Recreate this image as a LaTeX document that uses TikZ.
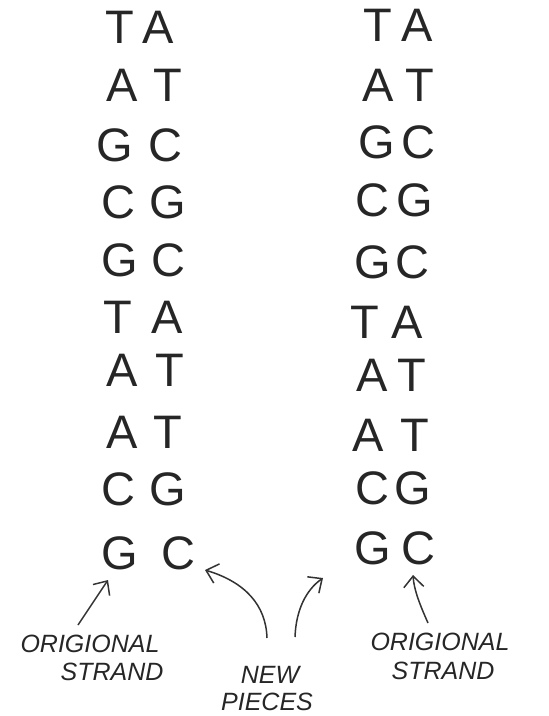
\documentclass[tikz,border=0pt]{standalone}
\usepackage{fontspec}
\setmainfont{Liberation Sans}
\usetikzlibrary{arrows.meta}
\begin{document}
\begin{tikzpicture}[x=1pt,y=-1pt,
  base/.style={font=\fontsize{47}{47}\selectfont, inner sep=0pt, text=black!85},
  lbl/.style={font=\fontsize{25}{25}\selectfont\itshape, inner sep=0pt, text=black!85},
  arr/.style={draw=black!80, line width=1.5pt, -{Straight Barb[length=11pt,width=20pt,line width=1.5pt]}}]
\useasboundingbox (0,0) rectangle (549,716);
% left column
\node[base] (l1a) at (120,27) {T};  \node[base] (l1b) at (158,27) {A};
\node[base] (l2a) at (122,85) {A};  \node[base] (l2b) at (168,85) {T};
\node[base] (l3a) at (115,145) {G}; \node[base] (l3b) at (165,145) {C};
\node[base] (l4a) at (118,202) {C}; \node[base] (l4b) at (168,202) {G};
\node[base] (l5a) at (120,260) {G}; \node[base] (l5b) at (168,260) {C};
\node[base] (l6a) at (118,317) {T}; \node[base] (l6b) at (167,317) {A};
\node[base] (l7a) at (122,370) {A}; \node[base] (l7b) at (170,370) {T};
\node[base] (l8a) at (122,432) {A}; \node[base] (l8b) at (168,432) {T};
\node[base] (l9a) at (118,489) {C}; \node[base] (l9b) at (168,489) {G};
\node[base] (l10a) at (120,553) {G}; \node[base] (l10b) at (178,553) {C};
% right column
\node[base] (r1a) at (378,25) {T};  \node[base] (r1b) at (417,25) {A};
\node[base] (r2a) at (378,85) {A};  \node[base] (r2b) at (420,85) {T};
\node[base] (r3a) at (377,142) {G}; \node[base] (r3b) at (418,142) {C};
\node[base] (r4a) at (372,200) {C}; \node[base] (r4b) at (415,200) {G};
\node[base] (r5a) at (373,262) {G}; \node[base] (r5b) at (412,262) {C};
\node[base] (r6a) at (365,322) {T}; \node[base] (r6b) at (407,322) {A};
\node[base] (r7a) at (372,375) {A}; \node[base] (r7b) at (412,375) {T};
\node[base] (r8a) at (368,435) {A}; \node[base] (r8b) at (415,435) {T};
\node[base] (r9a) at (372,488) {C}; \node[base] (r9b) at (413,488) {G};
\node[base] (r10a) at (373,548) {G}; \node[base] (r10b) at (418,548) {C};
% labels
\node[lbl] (lo) at (90,644) {ORIGIONAL};
\node[lbl] (ls) at (112,672) {STRAND};
\node[lbl] (nn) at (270,675) {NEW};
\node[lbl] (np) at (267,702) {PIECES};
\node[lbl] (ro) at (440,642) {ORIGIONAL};
\node[lbl] (rs) at (443,671) {STRAND};
% arrow end points
\coordinate (a1s) at (78,625);  \coordinate (a1e) at (108,580);
\coordinate (a2s) at (267,638); \coordinate (a2e) at (205,570);
\coordinate (a3s) at (295,637); \coordinate (a3e) at (323,578);
\coordinate (a4s) at (428,623); \coordinate (a4e) at (413,575);
\draw[arr] (a1s) -- (a1e);
\draw[arr] (a2s) .. controls (266,605) and (245,582) .. (a2e);
\draw[arr] (a3s) .. controls (296,610) and (306,590) .. (a3e);
\draw[arr] (a4s) .. controls (420,605) and (414,590) .. (a4e);
\end{tikzpicture}
\end{document}
